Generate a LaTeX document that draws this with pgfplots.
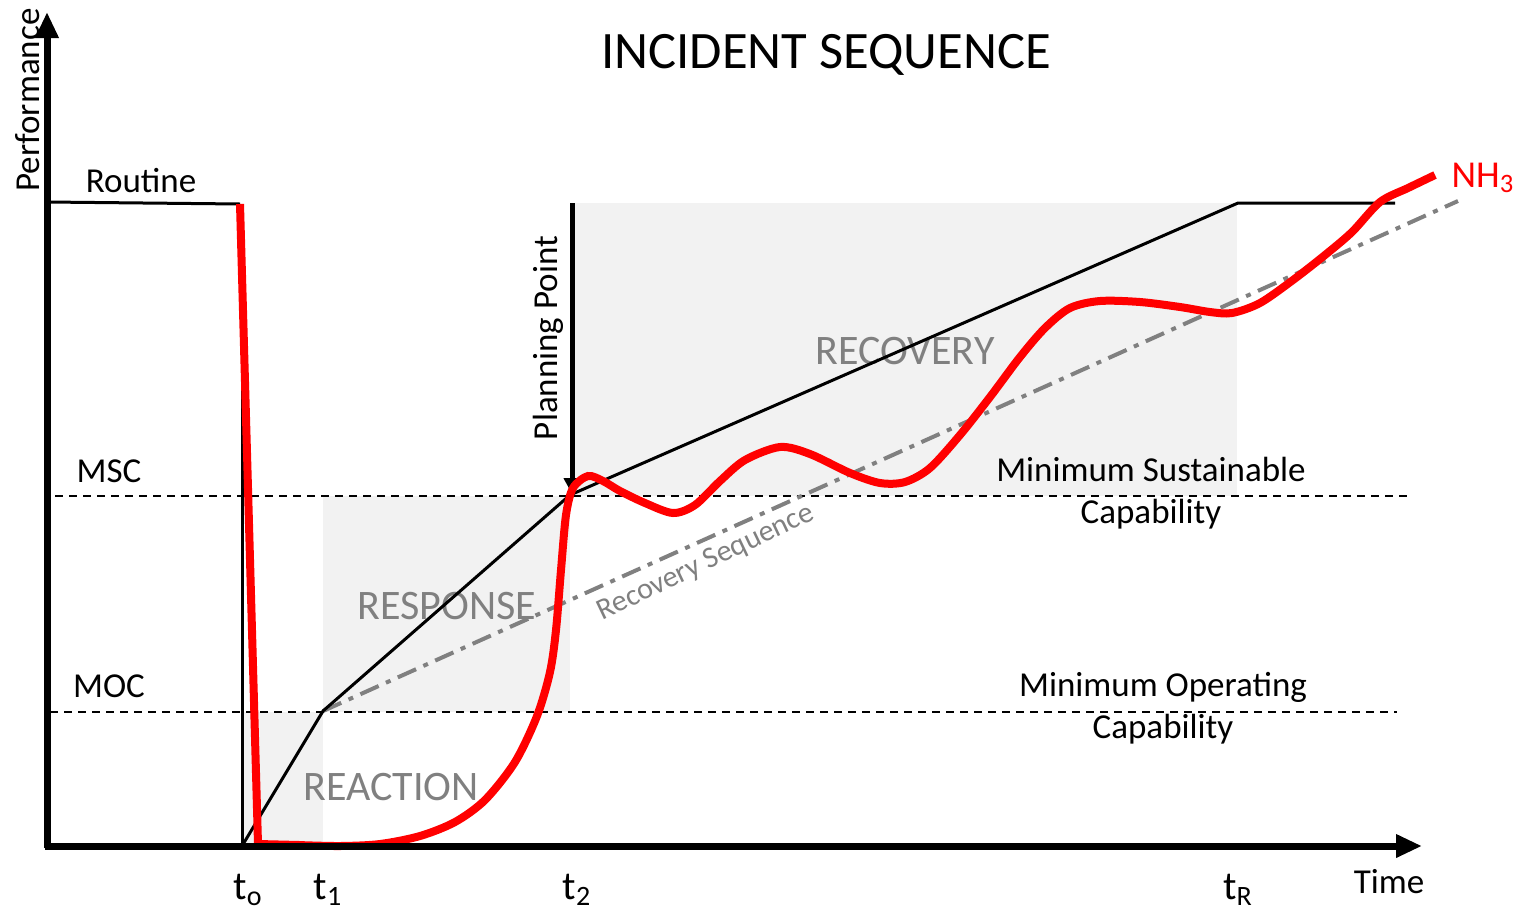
\documentclass[border=0pt]{standalone}
\usepackage{pgfplots}
\pgfplotsset{compat=1.18}
\usepackage{fontspec}
\setmainfont{Carlito}
\usetikzlibrary{arrows.meta}
\definecolor{shade}{HTML}{F2F2F2}
\definecolor{midgray}{HTML}{808080}
\begin{document}
\begin{tikzpicture}
\begin{axis}[
  scale only axis, width=767pt, height=458pt,
  xmin=0, xmax=1534, ymin=0, ymax=916, y dir=reverse,
  hide axis, clip=false,
]
% bounding frame
\addplot[draw=none] coordinates {(0,0) (1534,916)};
% shaded regions
\addplot[fill=shade, draw=none] coordinates {(243,712) (323,712) (323,846) (243,846)} -- cycle;
\addplot[fill=shade, draw=none] coordinates {(323,496) (570,496) (570,712) (323,712)} -- cycle;
\addplot[fill=shade, draw=none] coordinates {(572,203) (1237,203) (1237,496) (572,496)} -- cycle;
% gray labels
\node[text=midgray, font=\fontsize{21}{23}\selectfont] at (axis cs:391,787) {REACTION};
\node[text=midgray, font=\fontsize{21}{23}\selectfont] at (axis cs:447,606) {RESPONSE};
\node[text=midgray, font=\fontsize{21}{23}\selectfont] at (axis cs:905,351) {RECOVERY};
% dashed thresholds
\addplot[black, line width=1pt, dash pattern=on 4pt off 3pt] coordinates {(55,496) (1408,496)};
\addplot[black, line width=1pt, dash pattern=on 4pt off 3pt] coordinates {(50,712) (1397,712)};
% recovery sequence dash-dot
\addplot[midgray, line width=2pt, dash pattern=on 10pt off 4pt on 2.5pt off 4pt] coordinates {(323,711) (1458,201)};
\node[text=midgray, rotate=25.5, font=\fontsize{15}{17}\selectfont] at (axis cs:706,563) {Recovery Sequence};
% black target path
\addplot[black, line width=1.5pt] coordinates {(47,202) (240,204)};
\addplot[black, line width=1.5pt] coordinates {(242,204) (242,846)};
\addplot[black, line width=1.5pt] coordinates {(242,846) (323,711) (570,495) (1238,203) (1395,203)};
% planning point arrow
\addplot[black, line width=2.5pt, -{Triangle[length=8pt,width=8pt]}] coordinates {(572,203) (572,494)};
\node[rotate=90, font=\fontsize{17.5}{19}\selectfont] at (axis cs:548,338) {Planning Point};
% red NH3 curve
\addplot[red, line width=4pt, line join=round] coordinates {(240,204) (258,844) (300,845)};
\addplot[red, line width=4pt, smooth, tension=0.5] coordinates {
(298,845) (340,846) (380,844) (420,836) (455,822) (485,800) (515,762) (537,716) (550,672) (556,630) (561,570) (566,515) (573,488) (588,476) (603,481) (620,491) (645,503) (673,513) (695,505) (720,481) (745,460) (780,447) (810,454) (850,473) (880,483) (905,482) (930,468) (960,435) (990,397) (1020,357) (1045,328) (1070,308) (1100,301) (1140,302) (1180,307) (1210,312) (1232,313) (1260,303) (1293,280) (1325,255) (1352,232) (1380,202) (1408,188) (1435,175)};
\node[text=red, font=\fontsize{19}{21}\selectfont] at (axis cs:1483,178) {NH\textsubscript{3}};
% axes
\addplot[black, line width=3.5pt, -{Triangle[length=13pt,width=11pt]}] coordinates {(47,848) (47,12)};
\addplot[black, line width=3.5pt, -{Triangle[length=13pt,width=11pt]}] coordinates {(45,846) (1422,846)};
% labels
\node[font=\fontsize{26.3}{29}\selectfont] at (axis cs:826,55) {INCIDENT SEQUENCE};
\node[rotate=90, font=\fontsize{17.5}{19}\selectfont] at (axis cs:28,100) {Performance};
\node[font=\fontsize{17.5}{19}\selectfont] at (axis cs:141,181) {Routine};
\node[font=\fontsize{17.5}{19}\selectfont] at (axis cs:109,471) {MSC};
\node[font=\fontsize{17.5}{19}\selectfont] at (axis cs:109,686) {MOC};
\node[font=\fontsize{17.5}{21}\selectfont, align=center] at (axis cs:1151,493) {Minimum Sustainable\\Capability};
\node[font=\fontsize{17.5}{21}\selectfont, align=center] at (axis cs:1163,708) {Minimum Operating\\Capability};
\node[font=\fontsize{20}{22}\selectfont] at (axis cs:248,890) {t\textsubscript{o}};
\node[font=\fontsize{20}{22}\selectfont] at (axis cs:328,890) {t\textsubscript{1}};
\node[font=\fontsize{20}{22}\selectfont] at (axis cs:577,890) {t\textsubscript{2}};
\node[font=\fontsize{20}{22}\selectfont] at (axis cs:1238,890) {t\textsubscript{R}};
\node[font=\fontsize{17.5}{19}\selectfont] at (axis cs:1389,882) {Time};
\end{axis}
\end{tikzpicture}
\end{document}
